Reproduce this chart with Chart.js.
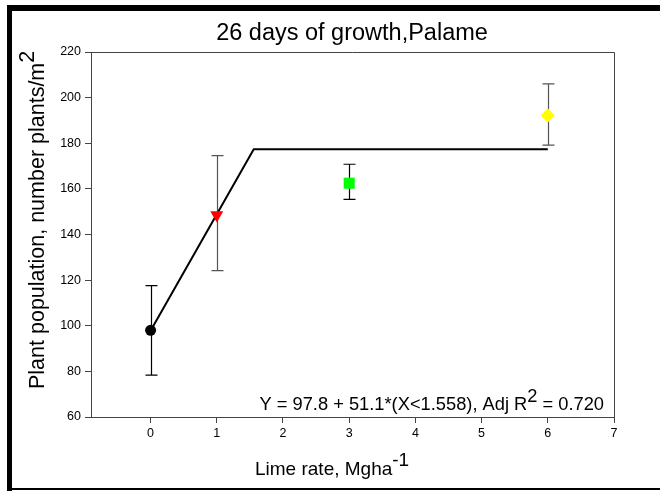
<!DOCTYPE html>
<html>
<head>
<meta charset="utf-8">
<script src="https://cdn.jsdelivr.net/npm/chart.js@4.4.1/dist/chart.umd.min.js"></script>
<style>
  html, body { margin: 0; padding: 0; background: #fff; }
  #wrap { width: 660px; height: 491px; }
</style>
</head>
<body>
<div id="wrap"><canvas id="chart" width="660" height="491"></canvas></div>
<script>
// Lime rate (Mg/ha) and mean plant population with error bar limits
const limeRates = [0, 1, 3, 6];
const plantPop = [98, 148.5, 162.5, 192.2];
const errLow = [78.4, 124.2, 155.4, 179.2];
const errHigh = [117.6, 174.6, 170.8, 206];

// Fitted two-segment model: Y = 97.8 + 51.1*(X<1.558)
const fitX = [0, 1.558, 6];
const fitY = [97.8, 177.4, 177.4];

const xTicks = [0, 1, 2, 3, 4, 5, 6, 7];
const yTicks = [60, 80, 100, 120, 140, 160, 180, 200, 220];

const FONT = '"Liberation Sans", Arial, sans-serif';
const AXIS_COLOR = '#444';

// draws a run of text pieces, some raised as superscripts
function drawRich(ctx, parts, x, y, size, align) {
    ctx.font = size + 'px ' + FONT;
    let total = 0;
    parts.forEach(p => { total += ctx.measureText(p.t).width; });
    let cx = align === 'right' ? x - total : (align === 'center' ? x - total / 2 : x);
    ctx.textAlign = 'left';
    ctx.textBaseline = 'alphabetic';
    parts.forEach(p => {
        const dy = p.sup ? -size * 0.45 : 0;
        ctx.fillText(p.t, cx, y + dy);
        cx += ctx.measureText(p.t).width;
    });
}

// Page frame, plot box, error bars and text labels
const decorations = {
    id: 'decorations',
    beforeDraw(chart) {
        const ctx = chart.ctx;
        ctx.save();
        ctx.fillStyle = '#fff';
        ctx.fillRect(0, 0, chart.width, chart.height);
        ctx.fillStyle = '#000';
        ctx.fillRect(7, 5, 653, 6);
        ctx.fillRect(7, 5, 5, 486);
        ctx.fillRect(12, 488, 648, 2);
        ctx.restore();
    },
    beforeDatasetsDraw(chart) {
        const ctx = chart.ctx;
        const xs = chart.scales.x, ys = chart.scales.y;
        const barColors = ['#000', '#555', '#000', '#555'];
        ctx.save();
        ctx.lineWidth = 1.2;
        limeRates.forEach((v, i) => {
            const px = Math.round(xs.getPixelForValue(v)) + 0.5;
            const top = ys.getPixelForValue(errHigh[i]);
            const bot = ys.getPixelForValue(errLow[i]);
            ctx.strokeStyle = barColors[i];
            ctx.beginPath();
            ctx.moveTo(px, top); ctx.lineTo(px, bot);
            ctx.moveTo(px - 6, top); ctx.lineTo(px + 6, top);
            ctx.moveTo(px - 6, bot); ctx.lineTo(px + 6, bot);
            ctx.stroke();
        });
        ctx.restore();
    },
    afterDraw(chart) {
        const ctx = chart.ctx;
        const a = chart.chartArea;
        ctx.save();
        // top and right sides of the plot box
        ctx.strokeStyle = AXIS_COLOR;
        ctx.lineWidth = 1;
        ctx.beginPath();
        ctx.moveTo(a.left, a.top + 0.5); ctx.lineTo(a.right + 0.5, a.top + 0.5);
        ctx.lineTo(a.right + 0.5, a.bottom);
        ctx.stroke();

        ctx.fillStyle = '#000';
        drawRich(ctx, [{ t: '26 days of growth,Palame' }], 352, 40, 23.5, 'center');
        drawRich(ctx, [{ t: 'Y = 97.8 + 51.1*(X<1.558), Adj R' }, { t: '2', sup: true }, { t: ' = 0.720' }],
            604, 410, 18.3, 'right');
        drawRich(ctx, [{ t: 'Lime rate, Mgha' }, { t: '-1', sup: true }], 255, 475, 19, 'left');

        ctx.translate(44, 389);
        ctx.rotate(-Math.PI / 2);
        drawRich(ctx, [{ t: 'Plant population, number plants/m' }, { t: '2', sup: true }], 0, 0, 21.5, 'left');
        ctx.restore();
    }
};

const tickSetup = values => scale => { scale.ticks = values.map(v => ({ value: v })); };

new Chart(document.getElementById('chart'), {
    type: 'scatter',
    data: {
        datasets: [{
            label: 'fit',
            data: fitX.map((x, i) => ({ x: x, y: fitY[i] })),
            showLine: true,
            borderColor: '#000',
            borderWidth: 2,
            pointRadius: 0,
            order: 2
        }, {
            label: 'means',
            data: limeRates.map((x, i) => ({ x: x, y: plantPop[i] })),
            pointStyle: ['circle', 'triangle', 'rect', 'rectRot'],
            rotation: [0, 180, 0, 0],
            pointRadius: [5.5, 7.5, 7.8, 7.2],
            backgroundColor: ['#000', '#ff0000', '#00ff00', '#ffff00'],
            borderColor: ['#000', '#ff0000', '#00ff00', '#ffff00'],
            borderWidth: 0,
            order: 1
        }]
    },
    options: {
        responsive: false,
        animation: false,
        events: [],
        layout: { padding: { top: 52, right: 46, left: 0, bottom: 0 } },
        plugins: {
            legend: { display: false },
            title: { display: false },
            tooltip: { enabled: false }
        },
        scales: {
            x: {
                type: 'linear',
                min: -0.9,
                max: 7,
                afterBuildTicks: tickSetup(xTicks),
                afterFit: s => { s.height = 74; },
                ticks: { color: '#000', font: { family: FONT, size: 12.5 }, padding: 3, maxRotation: 0 },
                grid: { drawOnChartArea: false, tickLength: 6, color: AXIS_COLOR },
                border: { color: AXIS_COLOR, width: 1 }
            },
            y: {
                type: 'linear',
                min: 60,
                max: 220,
                afterBuildTicks: tickSetup(yTicks),
                afterFit: s => { s.width = 91; },
                ticks: { color: '#000', font: { family: FONT, size: 12.5 }, padding: 4 },
                grid: { drawOnChartArea: false, tickLength: 6, color: AXIS_COLOR },
                border: { color: AXIS_COLOR, width: 1 }
            }
        }
    },
    plugins: [decorations]
});
</script>
</body>
</html>
